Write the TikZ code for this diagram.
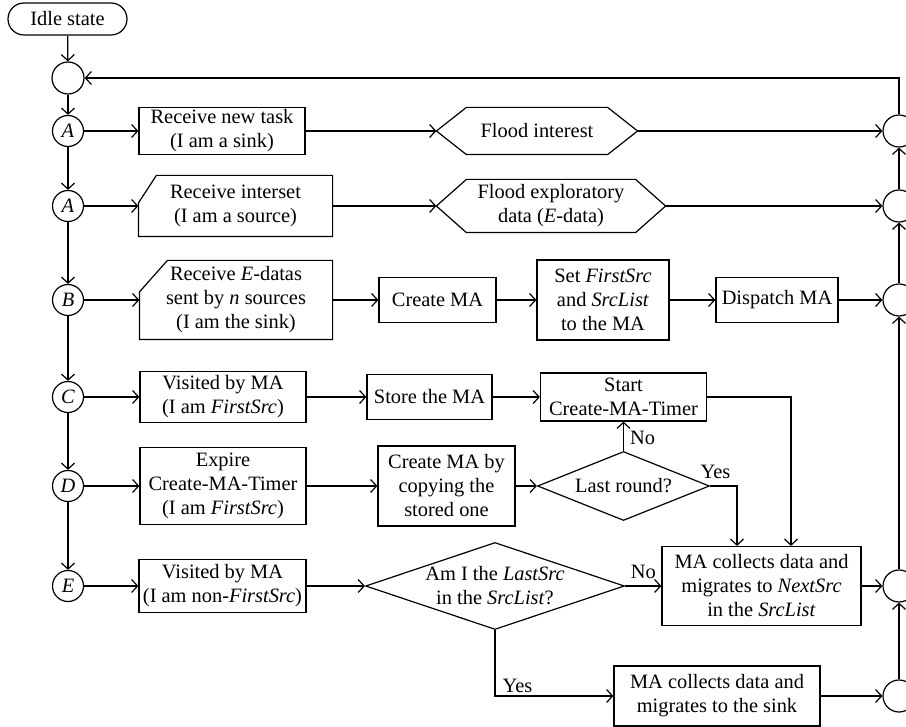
\documentclass[tikz,border=0pt]{standalone}
\usepackage{fontspec}
\setmainfont{Liberation Serif}
\usetikzlibrary{arrows.meta, shapes.geometric}

\begin{document}
\begin{tikzpicture}[x=0.5pt, y=-0.5pt, line width=0.6pt,
    base/.style={font=\fontsize{10.2}{12}\selectfont, align=center, inner sep=0pt},
    state/.style={base, draw, rounded corners=8pt, minimum width=59.5pt, minimum height=16pt},
    joint/.style={base, draw, circle, minimum size=15.5pt},
    proc/.style={base, draw, minimum height=22.5pt},
    bare/.style={base, minimum height=22.5pt},
    decision/.style={base, draw, diamond, shape aspect=3, inner sep=-4pt},
    flow/.style={-{Straight Barb[length=3pt, width=6.5pt]}},
    lbl/.style={base, inner sep=1.5pt}]
    \useasboundingbox (0,0) rectangle (906,727);

    % Left column: idle state and the event circles
    \node[state] (idle) at (67.5,19) {Idle state};
    \node[joint, minimum size=16pt] (j0) at (68,78) {};
    \node[joint] (A1) at (68,131) {\textit{A}};
    \node[joint] (A2) at (68,206) {\textit{A}};
    \node[joint] (B) at (68,300) {\textit{B}};
    \node[joint] (C) at (68,397) {\textit{C}};
    \node[joint] (D) at (68,486) {\textit{D}};
    \node[joint] (E) at (68,586) {\textit{E}};

    % Right column: the return circles
    \node[joint, minimum size=16pt] (r1) at (899,131) {};
    \node[joint, minimum size=16pt] (r2) at (899,206) {};
    \node[joint, minimum size=16pt] (r3) at (899,300) {};
    \node[joint, minimum size=16pt] (r4) at (899,586) {};
    \node[joint, minimum size=16pt] (r5) at (899,696) {};

    % Row A: the sink gets a task
    \node[proc, minimum width=83pt, minimum height=23.5pt] (task) at (222,131) {Receive new task\\(I am a sink)};
    \node[bare, minimum width=100pt, minimum height=23pt] (flood) at (537,131) {Flood interest};
    \draw (flood.west) -- ([xshift=15pt]flood.north west) -- ([xshift=-15pt]flood.north east)
        -- (flood.east) -- ([xshift=-15pt]flood.south east) -- ([xshift=15pt]flood.south west) -- cycle;

    % Row A: a source gets the interest
    \node[bare, minimum width=96.5pt, minimum height=30pt] (interest) at (235.5,206) {Receive interset\\(I am a source)};
    \draw ([yshift=1.5pt]interest.west) -- ([xshift=9pt]interest.north west) -- (interest.north east)
        -- (interest.south east) -- (interest.south west) -- cycle;
    \node[bare, minimum width=114pt, minimum height=26pt] (explore) at (551,206) {Flood exploratory\\data (\textit{E}-data)};
    \draw (explore.west) -- ([xshift=15pt]explore.north west) -- ([xshift=-15pt]explore.north east)
        -- (explore.east) -- ([xshift=-15pt]explore.south east) -- ([xshift=15pt]explore.south west) -- cycle;

    % Row B: the sink gets the E-data
    \node[bare, minimum width=96pt, minimum height=39pt] (edata) at (236,300) {Receive \textit{E}-datas\\sent by \textit{n} sources\\(I am the sink)};
    \draw ([yshift=4pt]edata.west) -- ([xshift=14pt]edata.north west) -- (edata.north east)
        -- (edata.south east) -- (edata.south west) -- cycle;
    \node[proc, minimum width=58.5pt] (create) at (437.5,300) {Create MA};
    \node[proc, minimum width=66pt, minimum height=40pt] (setsrc) at (603,300) {Set \textit{FirstSrc}\\and \textit{SrcList}\\to the MA};
    \node[proc, minimum width=61pt] (dispatch) at (777,300) {Dispatch MA};

    % Row C: first source visited
    \node[proc, minimum width=83pt, minimum height=25.5pt] (visit1) at (223,397) {Visited by MA\\(I am \textit{FirstSrc})};
    \node[proc, minimum width=62.5pt] (store) at (429.5,397) {Store the MA};
    \node[proc, minimum width=83pt, minimum height=24pt] (timer) at (623.5,397) {Start\\Create-MA-Timer};

    % Row D: timer expires
    \node[proc, minimum width=83pt, minimum height=38.5pt] (expire) at (223,486) {Expire\\Create-MA-Timer\\(I am \textit{FirstSrc})};
    \node[proc, minimum width=68.5pt, minimum height=40pt] (copy) at (446.5,486) {Create MA by\\copying the\\stored one};
    \node[decision, minimum width=86pt, minimum height=34.5pt] (last) at (623.5,486) {Last round?};

    % Row E: other sources visited
    \node[proc, minimum width=83.5pt, minimum height=26.5pt] (visit2) at (222.5,586) {Visited by MA\\(I am non-\textit{FirstSrc})};
    \node[decision, minimum width=129.5pt, minimum height=43.5pt] (lastsrc) at (495,586) {Am I the \textit{LastSrc}\\in the \textit{SrcList}?};
    \node[proc, minimum width=99.5pt, minimum height=39.5pt] (next) at (761.5,586) {MA collects data and\\migrates to \textit{NextSrc}\\in the \textit{SrcList}};
    \node[proc, minimum width=103pt, minimum height=30pt] (sink) at (717,696) {MA collects data and\\migrates to the sink};

    % Down the left column
    \draw[flow] (idle) -- (j0);
    \draw[flow] (j0) -- (A1);
    \draw[flow] (A1) -- (A2);
    \draw[flow] (A2) -- (B);
    \draw[flow] (B) -- (C);
    \draw[flow] (C) -- (D);
    \draw[flow] (D) -- (E);

    % Along the rows
    \draw[flow] (A1) -- (task);
    \draw[flow] (task) -- (flood.west);
    \draw[flow] (flood.east) -- (r1);
    \draw[flow] (A2) -- (interest.west);
    \draw[flow] (interest.east) -- (explore.west);
    \draw[flow] (explore.east) -- (r2);
    \draw[flow] (B) -- (edata.west);
    \draw[flow] (edata.east) -- (create);
    \draw[flow] (create) -- (setsrc);
    \draw[flow] (setsrc) -- (dispatch);
    \draw[flow] (dispatch) -- (r3);
    \draw[flow] (C) -- (visit1);
    \draw[flow] (visit1) -- (store);
    \draw[flow] (store) -- (timer);
    \draw[flow] (timer.east) -| ([xshift=14.75pt]next.north);
    \draw[flow] (D) -- (expire);
    \draw[flow] (expire) -- (copy);
    \draw[flow] (copy) -- (last);
    \draw[flow] (last.north) -- node[lbl, right, xshift=1.5pt, yshift=-1pt] {No} (timer.south);
    \draw[flow] (last.east) -| node[lbl, pos=0.1, above, yshift=2pt] {Yes} ([xshift=-12.25pt]next.north);
    \draw[flow] (E) -- (visit2);
    \draw[flow] (visit2) -- (lastsrc);
    \draw[flow] (lastsrc.east) -- node[lbl, above, yshift=2pt] {No} (next.west);
    \draw[flow] (lastsrc.south) |- node[lbl, pos=0.5, above right, xshift=2pt] {Yes} (sink.west);
    \draw[flow] (next) -- (r4);
    \draw[flow] (sink) -- (r5);

    % Up the right column and back to the top
    \draw[flow] (r5) -- (r4);
    \draw[flow] (r4) -- (r3);
    \draw[flow] (r3) -- (r2);
    \draw[flow] (r2) -- (r1);
    \draw[flow] (r1.north) |- (j0.east);
\end{tikzpicture}
\end{document}
